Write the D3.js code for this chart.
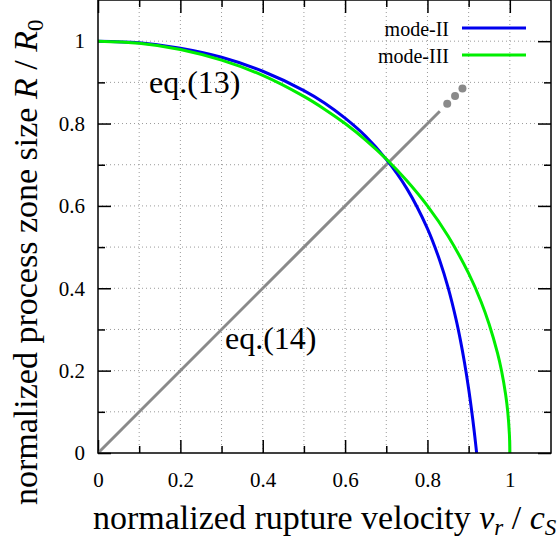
<!DOCTYPE html>
<html>
<head>
<meta charset="utf-8">
<script src="https://cdn.jsdelivr.net/npm/d3@7"></script>
<style>
  body { margin: 0; background: #fff; }
  svg { display: block; font-family: 'Liberation Serif', 'Times New Roman', 'DejaVu Serif', serif; }
</style>
</head>
<body>
<div id="chart"></div>
<script>
// values
const modeIIv = [0, 0.1, 0.2, 0.3, 0.4, 0.5, 0.55, 0.6, 0.65, 0.7, 0.75, 0.8, 0.83, 0.85, 0.87, 0.88, 0.89, 0.9, 0.91, 0.915, 0.9194];
const modeIIR = [1, 0.996, 0.983, 0.961, 0.927, 0.880, 0.850, 0.813, 0.769, 0.713, 0.642, 0.545, 0.467, 0.402, 0.322, 0.274, 0.219, 0.156, 0.082, 0.040, 0];

const modeIIIv = [0, 0.1, 0.2, 0.3, 0.4, 0.5, 0.55, 0.6, 0.65, 0.7, 0.75, 0.8, 0.85, 0.9, 0.93, 0.95, 0.97, 0.98, 0.99, 0.995, 0.999, 1];
const modeIIIR = [1, 0.995, 0.980, 0.954, 0.917, 0.866, 0.835, 0.800, 0.760, 0.714, 0.661, 0.600, 0.527, 0.436, 0.368, 0.312, 0.243, 0.199, 0.141, 0.100, 0.045, 0];

const eq14v = [0, 0.83];
const eq14R = [0, 0.83];
const eq14dotsV = [0.848, 0.867, 0.885];

const majorTicks = [0, 0.2, 0.4, 0.6, 0.8, 1];
const tickLabels = ['0', '0.2', '0.4', '0.6', '0.8', '1'];
const minorTicks = [0.1, 0.3, 0.5, 0.7, 0.9];
const gridTicks = [0.1, 0.2, 0.3, 0.4, 0.5, 0.6, 0.7, 0.8, 0.9, 1];

const width = 560;
const height = 543;
const margin = { top: 0, right: 9, bottom: 90, left: 98 };
const w = width - margin.left - margin.right;
const h = height - margin.top - margin.bottom;

const svg = d3.select('#chart')
    .append('svg')
    .attr('width', width)
    .attr('height', height);

const g = svg.append('g')
    .attr('transform', `translate(${margin.left}, ${margin.top})`);

const x = d3.scaleLinear().domain([0, 1.1]).range([0, w]);
const y = d3.scaleLinear().domain([0, 1.1]).range([h, 0]);

// dotted grid
g.selectAll('.gx')
    .data(gridTicks)
    .enter()
    .append('line')
    .attr('x1', d => x(d)).attr('x2', d => x(d))
    .attr('y1', 0).attr('y2', h)
    .attr('stroke', '#9a9a9a')
    .attr('stroke-width', 1)
    .attr('stroke-dasharray', '1,3');

g.selectAll('.gy')
    .data(gridTicks)
    .enter()
    .append('line')
    .attr('y1', d => y(d)).attr('y2', d => y(d))
    .attr('x1', 0).attr('x2', w)
    .attr('stroke', '#9a9a9a')
    .attr('stroke-width', 1)
    .attr('stroke-dasharray', '1,3');

// axes: ticks point inward on every side
function styleAxis(sel) {
    sel.select('.domain').remove();
    sel.selectAll('line').attr('stroke', '#000').attr('stroke-width', 1.5);
    sel.selectAll('text')
        .attr('fill', '#000')
        .style('font-family', "'Liberation Serif', 'Times New Roman', serif")
        .style('font-size', '21px');
}

g.append('g')
    .attr('transform', `translate(0, ${h})`)
    .call(d3.axisBottom(x).tickValues(majorTicks).tickSize(-13).tickPadding(19)
        .tickFormat((d, i) => tickLabels[i]))
    .call(styleAxis);

g.append('g')
    .attr('transform', `translate(0, ${h})`)
    .call(d3.axisBottom(x).tickValues(minorTicks).tickSize(-7).tickFormat(''))
    .call(styleAxis);

g.append('g')
    .call(d3.axisLeft(y).tickValues(majorTicks).tickSize(-13).tickPadding(13)
        .tickFormat((d, i) => tickLabels[i]))
    .call(styleAxis);

g.append('g')
    .call(d3.axisLeft(y).tickValues(minorTicks).tickSize(-7).tickFormat(''))
    .call(styleAxis);

g.append('g')
    .call(d3.axisTop(x).tickValues(majorTicks).tickSize(-13).tickFormat(''))
    .call(styleAxis);

g.append('g')
    .call(d3.axisTop(x).tickValues(minorTicks).tickSize(-7).tickFormat(''))
    .call(styleAxis);

g.append('g')
    .attr('transform', `translate(${w}, 0)`)
    .call(d3.axisRight(y).tickValues(majorTicks).tickSize(-13).tickFormat(''))
    .call(styleAxis);

g.append('g')
    .attr('transform', `translate(${w}, 0)`)
    .call(d3.axisRight(y).tickValues(minorTicks).tickSize(-7).tickFormat(''))
    .call(styleAxis);

// clip to plot box
svg.append('defs')
    .append('clipPath')
    .attr('id', 'clip')
    .append('rect')
    .attr('width', w)
    .attr('height', h);

const plot = g.append('g').attr('clip-path', 'url(#clip)');

const line = d3.line()
    .x(d => x(d[0]))
    .y(d => y(d[1]))
    .curve(d3.curveCatmullRom.alpha(0.5));

// eq.(14) gray line + dots
plot.append('path')
    .datum(eq14v.map((v, i) => [v, eq14R[i]]))
    .attr('d', d3.line().x(d => x(d[0])).y(d => y(d[1])))
    .attr('fill', 'none')
    .attr('stroke', '#8a8a8a')
    .attr('stroke-width', 3);

plot.selectAll('.dot')
    .data(eq14dotsV)
    .enter()
    .append('circle')
    .attr('cx', d => x(d))
    .attr('cy', d => y(d))
    .attr('r', 4)
    .attr('fill', '#8a8a8a');

plot.append('path')
    .datum(modeIIv.map((v, i) => [v, modeIIR[i]]))
    .attr('d', line)
    .attr('fill', 'none')
    .attr('stroke', '#0000ee')
    .attr('stroke-width', 3);

plot.append('path')
    .datum(modeIIIv.map((v, i) => [v, modeIIIR[i]]))
    .attr('d', line)
    .attr('fill', 'none')
    .attr('stroke', '#00ee00')
    .attr('stroke-width', 3);

// frame
g.append('rect')
    .attr('width', w)
    .attr('height', h)
    .attr('fill', 'none')
    .attr('stroke', '#000')
    .attr('stroke-width', 1.5);

// legend
const legend = [
    { name: 'mode-II', color: '#0000ee', y: 28 },
    { name: 'mode-III', color: '#00ee00', y: 55 },
];

legend.forEach(d => {
    svg.append('text')
        .attr('x', 449)
        .attr('y', d.y + 8)
        .attr('text-anchor', 'end')
        .style('font-size', '20px')
        .text(d.name);
    svg.append('line')
        .attr('x1', 462).attr('x2', 526)
        .attr('y1', d.y).attr('y2', d.y)
        .attr('stroke', d.color)
        .attr('stroke-width', 3);
});

// equation labels
g.append('text')
    .attr('x', 149 - margin.left)
    .attr('y', 93)
    .style('font-size', '32px')
    .text('eq.(13)');

g.append('text')
    .attr('x', 225 - margin.left)
    .attr('y', 349)
    .style('font-size', '32px')
    .text('eq.(14)');

// axis titles
const xTitle = svg.append('text')
    .attr('x', 93)
    .attr('y', 529)
    .style('font-size', '34px');
xTitle.append('tspan').text('normalized rupture velocity ');
xTitle.append('tspan').style('font-style', 'italic').text('v');
xTitle.append('tspan').style('font-style', 'italic').style('font-size', '23px').attr('dy', 6).text('r');
xTitle.append('tspan').attr('dy', -6).text(' / ');
xTitle.append('tspan').style('font-style', 'italic').text('c');
xTitle.append('tspan').style('font-style', 'italic').style('font-size', '23px').attr('dy', 6).text('S');

const yTitle = svg.append('text')
    .attr('transform', 'translate(37, 505) rotate(-90)')
    .style('font-size', '34px');
yTitle.append('tspan').text('normalized process zone size ');
yTitle.append('tspan').style('font-style', 'italic').text('R');
yTitle.append('tspan').text(' / ');
yTitle.append('tspan').style('font-style', 'italic').text('R');
yTitle.append('tspan').style('font-size', '23px').attr('dy', 6).text('0');
</script>
</body>
</html>
